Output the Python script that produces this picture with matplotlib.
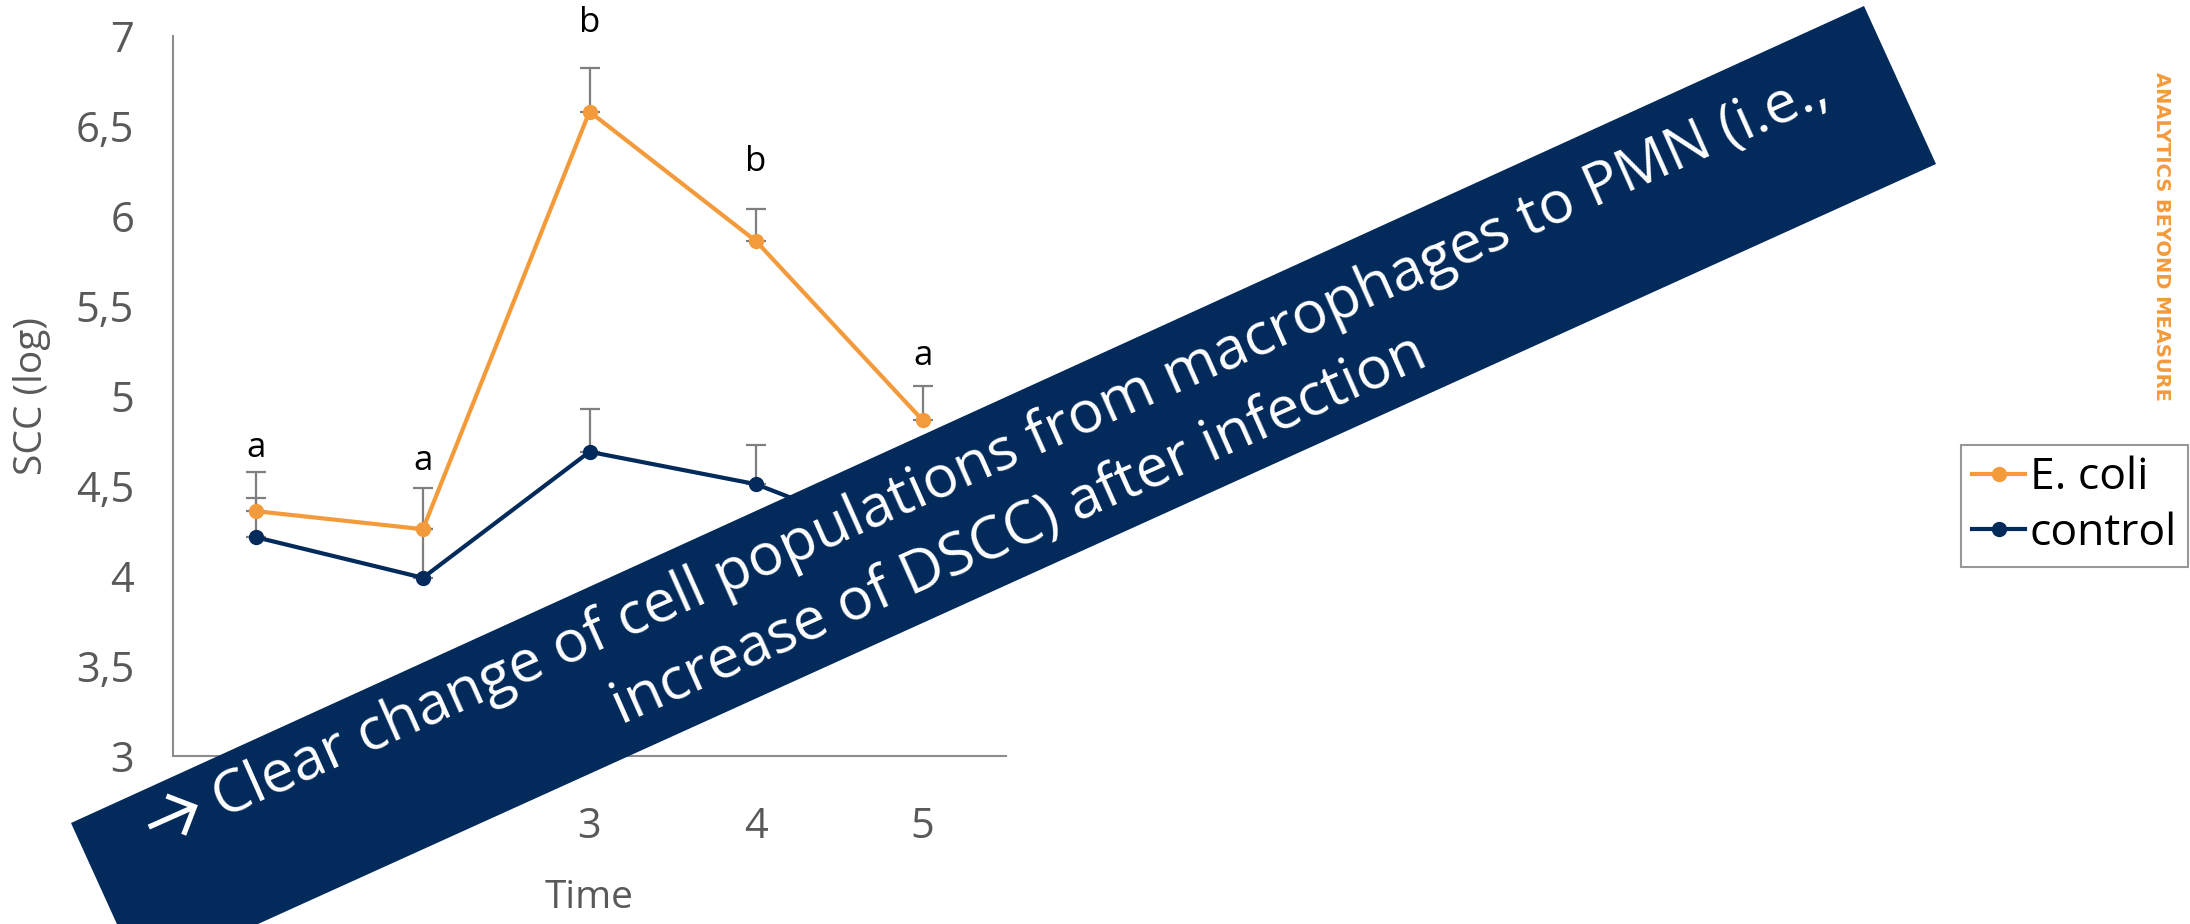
import math
import matplotlib
matplotlib.use("Agg")
import matplotlib.pyplot as plt
from matplotlib.patches import Polygon
from matplotlib.lines import Line2D
from matplotlib.ticker import FuncFormatter

# Somatic cell count (log) per sampling time
time_points = [1, 2, 3, 4, 5]
ecoli_mean = [4.36, 4.26, 6.58, 5.86, 4.865]
ecoli_err = [0.22, 0.23, 0.24, 0.18, 0.19]
control_mean = [4.215, 3.99, 4.69, 4.51, 4.15]
control_err = [0.22, 0.27, 0.24, 0.22, 0.20]

# Significance letters and their heights
sig_letters = ["a", "a", "b", "b", "a"]
sig_heights = [4.71, 4.64, 7.07, 6.30, 5.22]

series_labels = ["E. coli", "control"]
y_ticks = [3, 3.5, 4, 4.5, 5, 5.5, 6, 6.5, 7]

banner_line1 = "Clear change of cell populations from macrophages to PMN (i.e.,"
banner_line2 = "increase of DSCC) after infection"
brand_text = "ANALYTICS BEYOND MEASURE"

ORANGE = "#F39A3B"
NAVY = "#022A5B"
GREY_TXT = "#595959"
FONT = ["Open Sans", "DejaVu Sans"]

plt.rcParams["font.family"] = FONT

W, H = 2190, 924
fig = plt.figure(figsize=(W / 100, H / 100), dpi=100)
ax = fig.add_axes([173 / W, 1 - 756 / H, (1006 - 173) / W, (756 - 36) / H])

ax.errorbar(time_points, ecoli_mean, yerr=[[0] * 5, ecoli_err], fmt="none",
            ecolor="#7f7f7f", elinewidth=1.6, capsize=7, capthick=1.6, zorder=1)
ax.errorbar(time_points, control_mean, yerr=[[0] * 5, control_err], fmt="none",
            ecolor="#7f7f7f", elinewidth=1.6, capsize=7, capthick=1.6, zorder=1)
ax.plot(time_points, control_mean, color=NAVY, lw=3, marker="o", ms=10,
        label=series_labels[1], zorder=3)
ax.plot(time_points, ecoli_mean, color=ORANGE, lw=3, marker="o", ms=10,
        label=series_labels[0], zorder=4)

for t, letter, h in zip(time_points, sig_letters, sig_heights):
    ax.text(t, h, letter, ha="center", va="center", fontsize=25,
            color="black", clip_on=False)

ax.set_xlim(0.5, 5.5)
ax.set_ylim(3, 7)
ax.set_xticks(time_points)
ax.set_yticks(y_ticks)
ax.yaxis.set_major_formatter(FuncFormatter(lambda v, p: f"{v:g}".replace(".", ",")))
ax.tick_params(axis="both", length=0, labelsize=30, labelcolor=GREY_TXT)
ax.tick_params(axis="y", pad=28)
ax.tick_params(axis="x", pad=36)
for side in ("top", "right"):
    ax.spines[side].set_visible(False)
for side in ("left", "bottom"):
    ax.spines[side].set_color("#8c8c8c")
    ax.spines[side].set_linewidth(1.5)

ax.set_ylabel("SCC (log)", fontsize=28, color=GREY_TXT, labelpad=18)
ax.set_xlabel("Time", fontsize=28, color=GREY_TXT, labelpad=22)

handles, labels = ax.get_legend_handles_labels()
leg = fig.legend(handles[::-1], labels[::-1], loc="lower right",
                 bbox_to_anchor=(2188 / W, 1 - 567 / H), fontsize=32,
                 frameon=True, fancybox=False, edgecolor="#7f7f7f",
                 handlelength=1.2, handletextpad=0.1, borderpad=0.25,
                 labelspacing=0.25, borderaxespad=0)
leg.get_frame().set_linewidth(1.5)

# Rotated banner across the chart (pixel corners, origin top-left)
corners = [(71, 823), (1864, 6), (1936, 164), (141, 977)]
banner = Polygon([(x / W, 1 - y / H) for x, y in corners], closed=True,
                 transform=fig.transFigure, facecolor=NAVY, edgecolor="none",
                 zorder=10)
fig.patches.append(banner)

theta = math.radians(24.0)
ux, uy = math.cos(theta), math.sin(theta)       # along the text
nx, ny = math.sin(theta), -math.cos(theta)      # towards the next line
fs = 42.5
renderer = fig.canvas.get_renderer()
probe = fig.text(0, 0, banner_line1, fontsize=fs, family=FONT)
w1 = probe.get_window_extent(renderer).width
probe.remove()

arrow_len = 50.0
gap = 0.35 * fs * 100 / 72
total = arrow_len + gap + w1
c1x, c1y = 988.0, H - 460.0
line_step = 78.0

t1x = c1x + (total / 2 - w1 / 2) * ux
t1y = c1y + (total / 2 - w1 / 2) * uy
fig.text(t1x / W, t1y / H, banner_line1, rotation=math.degrees(theta),
         rotation_mode="anchor", ha="center", va="center", fontsize=fs,
         color="white", zorder=11, family=FONT)
c2x, c2y = c1x + line_step * nx, c1y + line_step * ny
fig.text(c2x / W, c2y / H, banner_line2, rotation=math.degrees(theta),
         rotation_mode="anchor", ha="center", va="center", fontsize=fs,
         color="white", zorder=11, family=FONT)

# Open-headed arrow in front of the first line
ax_c = c1x + (-total / 2 + arrow_len / 2) * ux - 6 * nx
ay_c = c1y + (-total / 2 + arrow_len / 2) * uy - 6 * ny
tip = (ax_c + arrow_len / 2 * ux, ay_c + arrow_len / 2 * uy)
tail = (ax_c - arrow_len / 2 * ux, ay_c - arrow_len / 2 * uy)
head = 30.0
arm = []
for sgn in (1, -1):
    a = theta + math.pi + sgn * math.radians(45)
    arm.append((tip[0] + head * math.cos(a), tip[1] + head * math.sin(a)))
for xs, ys in ([(tail[0], tip[0]), (tail[1], tip[1])],
               [(arm[0][0], tip[0], arm[1][0]), (arm[0][1], tip[1], arm[1][1])]):
    fig.lines.append(Line2D([x / W for x in xs], [y / H for y in ys],
                            transform=fig.transFigure, color="white", lw=3.8,
                            solid_capstyle="butt", solid_joinstyle="miter",
                            zorder=11))

fig.text(2162 / W, 1 - 236 / H, brand_text, rotation=-90, ha="center", va="center",
         fontsize=14, fontweight="bold", color=ORANGE, family=["DejaVu Sans"])

fig.savefig("out.png", dpi=100, facecolor="white")
